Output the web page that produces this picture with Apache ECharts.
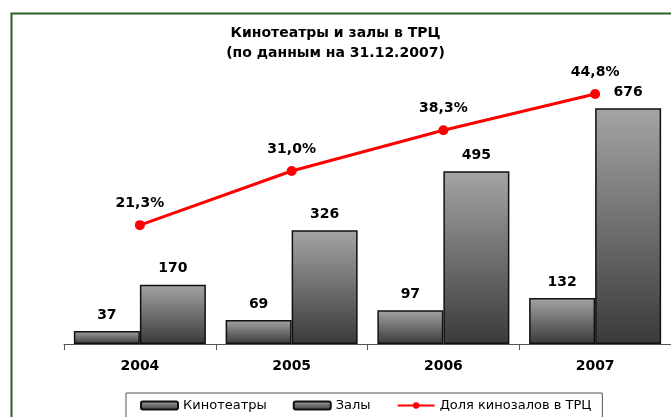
<!DOCTYPE html>
<html>
<head>
<meta charset="utf-8">
<script src="https://cdn.jsdelivr.net/npm/echarts@6/dist/echarts.min.js"></script>
<style>
  html, body { margin: 0; padding: 0; background: #fff; }
  #chart { width: 671px; height: 417px; }
</style>
</head>
<body>
<div id="chart"></div>
<script>
// данные
var years = ['2004', '2005', '2006', '2007'];
var cinemas = [37, 69, 97, 132];
var halls = [170, 326, 495, 676];
var share = [21.3, 31.0, 38.3, 44.8]; // доля кинозалов в ТРЦ, %

var font = 'DejaVu Sans';

// градиент столбцов
var barFill = new echarts.graphic.LinearGradient(0, 0, 0, 1, [
  { offset: 0, color: '#a4a4a4' },
  { offset: 1, color: '#3a3a3a' }
]);

var chart = echarts.init(document.getElementById('chart'), null, { renderer: 'canvas' });

chart.setOption({
  backgroundColor: '#fff',
  animation: false,
  textStyle: { fontFamily: font },
  title: {
    text: 'Кинотеатры и залы в ТРЦ\n(по данным на 31.12.2007)',
    left: 'center',
    top: 18,
    textStyle: {
      fontFamily: font,
      fontSize: 14,
      fontWeight: 'bold',
      color: '#000',
      lineHeight: 20
    }
  },
  // зелёная рамка вокруг диаграммы
  graphic: [{
    type: 'rect',
    left: 9,
    top: 11,
    shape: { width: 700, height: 460 },
    style: { fill: 'none', stroke: '#2f5f2f', lineWidth: 2 },
    silent: true
  }],
  legend: {
    left: 126,
    top: 393,
    padding: [6, 11, 10, 14],
    borderColor: '#555',
    borderWidth: 1,
    itemGap: 26,
    itemWidth: 37,
    itemHeight: 8,
    textStyle: { fontFamily: font, fontSize: 13, color: '#000' },
    data: [
      { name: 'Кинотеатры', icon: 'roundRect' },
      { name: 'Залы', icon: 'roundRect' },
      { name: 'Доля кинозалов в ТРЦ' }
    ]
  },
  grid: {
    left: 64,
    right: 0,
    top: 65,
    bottom: 73
  },
  xAxis: {
    type: 'category',
    data: years,
    axisLine: { lineStyle: { color: '#555', width: 1 } },
    axisTick: { show: true, length: 6, lineStyle: { color: '#555' } },
    axisLabel: {
      fontFamily: font,
      fontSize: 14,
      fontWeight: 'bold',
      color: '#000',
      margin: 15
    }
  },
  yAxis: [{
    type: 'value',
    min: 0,
    max: 800,
    show: false
  }, {
    type: 'value',
    min: 0,
    max: 50,
    show: false
  }],
  series: [{
    name: 'Кинотеатры',
    type: 'bar',
    data: cinemas,
    barGap: '0%',
    barCategoryGap: '13%',
    itemStyle: { color: barFill, borderColor: '#111', borderWidth: 1.5 },
    label: {
      show: true,
      position: 'top',
      distance: 9,
      fontFamily: font,
      fontSize: 14,
      fontWeight: 'bold',
      color: '#000'
    }
  }, {
    name: 'Залы',
    type: 'bar',
    data: halls,
    itemStyle: { color: barFill, borderColor: '#111', borderWidth: 1.5 },
    label: {
      show: true,
      position: 'top',
      distance: 9,
      fontFamily: font,
      fontSize: 14,
      fontWeight: 'bold',
      color: '#000'
    }
  }, {
    name: 'Доля кинозалов в ТРЦ',
    type: 'line',
    yAxisIndex: 1,
    data: share,
    symbol: 'circle',
    symbolSize: 10,
    lineStyle: { color: '#ff0000', width: 3 },
    itemStyle: { color: '#ff0000' },
    label: {
      show: true,
      position: 'top',
      distance: 10,
      fontFamily: font,
      fontSize: 14,
      fontWeight: 'bold',
      color: '#000',
      formatter: function (p) {
        return p.value.toFixed(1).replace('.', ',') + '%';
      }
    },
    z: 5
  }]
});
</script>
</body>
</html>
